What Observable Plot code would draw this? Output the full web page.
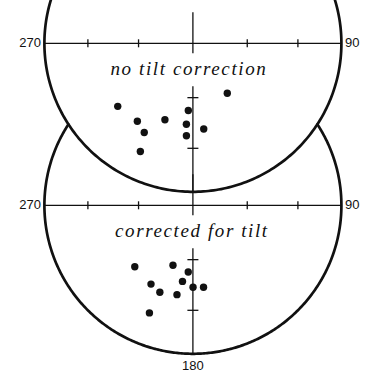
<!DOCTYPE html>
<html>
<head>
<meta charset="utf-8">
<script src="https://cdn.jsdelivr.net/npm/d3@7"></script>
<script src="https://cdn.jsdelivr.net/npm/@observablehq/plot@0.6"></script>
<style>
  html, body { margin: 0; padding: 0; background: #fff; }
  #chart svg { display: block; }
</style>
</head>
<body>
<div id="chart"></div>
<script>
// Site-mean palaeomagnetic directions, degrees
const netTitles = ["no tilt correction", "corrected for tilt"];
const uncorrectedDec = [230.0, 215.5, 208.6, 205.9, 200.1, 183.9, 184.6, 184.0, 172.8, 145.5];
const uncorrectedInc = [34.3, 35.8, 32.1, 20.1, 44.4, 52.6, 44.5, 37.6, 41.4, 56.4];
const correctedDec = [223.4, 198.4, 184.0, 187.8, 208.0, 200.8, 190.1, 179.9, 172.6, 202.0];
const correctedInc = [42.5, 55.0, 52.9, 47.1, 39.7, 37.4, 38.8, 44.1, 43.7, 22.9];
// Graticule ticks: angular distance from the vertical, degrees
const axisTicks = [30, 60];
// Azimuth labels round the primitive circle
const labelAzimuths = [270, 90, 180];
const labelTexts = ["270", "90", "180"];

// Layout
const W = 366, H = 374;
const px = 148.5;                    // pixels per primitive-circle radius
const cx = 192.4;                    // horizontal centre of both nets, px
const topCy = 42.8, botCy = 204.8;   // vertical centres, px
const gap = (botCy - topCy) / px;    // upper net centre in data units (lower net at 0)
const rad = Math.PI / 180;

// Lambert equal-area (Schmidt) projection, lower hemisphere, north up
function project(dec, inc) {
  const rho = Math.SQRT2 * Math.sin((90 - inc) * rad / 2);
  return [rho * Math.sin(dec * rad), rho * Math.cos(dec * rad)];
}

const nets = [
  {title: netTitles[0], dec: uncorrectedDec, inc: uncorrectedInc, y0: gap, labels: [270, 90]},
  {title: netTitles[1], dec: correctedDec, inc: correctedInc, y0: 0, labels: [270, 90, 180]}
];

const points = nets.flatMap(n => n.dec.map((d, i) => {
  const [x, y] = project(d, n.inc[i]);
  return {x, y: n.y0 + y};
}));

// Upper net: full primitive circle
const upperCircle = d3.range(0, 361, 1).map(a => ({x: Math.sin(a * rad), y: gap + Math.cos(a * rad)}));
// Lower net: only the part lying outside the upper net
const a0 = Math.acos(gap / 2) / rad;
const lowerArc = d3.range(a0, 360 - a0 + 1e-9, (360 - 2 * a0) / 400)
  .map(a => ({x: Math.sin(a * rad), y: Math.cos(a * rad)}));

const segments = [];
const tickPx = 4, crossPx = 5.5;
for (const n of nets) {
  const y0 = n.y0;
  segments.push({x1: -1, y1: y0, x2: 1, y2: y0});                       // E–W axis
  segments.push({x1: 0, y1: y0 + 31 / px, x2: 0, y2: y0 - 10 / px});   // centre cross
  segments.push({x1: 0, y1: y0 - 43 / px, x2: 0, y2: y0 - 1});          // southern axis
  for (const t of axisTicks) {
    const r = Math.SQRT2 * Math.sin(t * rad / 2);
    for (const s of [-1, 1]) segments.push({x1: s * r, y1: y0 - tickPx / px, x2: s * r, y2: y0 + tickPx / px});
    segments.push({x1: -crossPx / px, y1: y0 - r, x2: crossPx / px, y2: y0 - r});
  }
}

const labels = nets.flatMap(n => n.labels.map(az => {
  const i = labelAzimuths.indexOf(az);
  const pad = (az === 180 ? 12.5 : 3.5) / px;
  return {
    text: labelTexts[i],
    x: Math.sin(az * rad) * (1 + pad),
    y: n.y0 + Math.cos(az * rad) * (1 + pad),
    anchor: az === 270 ? "end" : az === 90 ? "start" : "middle"
  };
}));

const titles = nets.map((n, i) => ({text: n.title, x: (i === 0 ? -4 : -1) / px, y: n.y0 - 26 / px}));

const ink = "#111";
const chart = Plot.plot({
  width: W,
  height: H,
  margin: 0,
  x: {domain: [-cx / px, (W - cx) / px], axis: null},
  y: {domain: [-(H - botCy) / px, botCy / px], axis: null},
  marks: [
    Plot.line(lowerArc, {x: "x", y: "y", stroke: ink, strokeWidth: 2.7, curve: "linear"}),
    Plot.line(upperCircle, {x: "x", y: "y", stroke: ink, strokeWidth: 2.7, curve: "linear"}),
    Plot.link(segments, {x1: "x1", y1: "y1", x2: "x2", y2: "y2", stroke: ink, strokeWidth: 1.3}),
    Plot.dot(points, {x: "x", y: "y", r: 3.7, fill: ink, stroke: "none"}),
    ...["end", "start", "middle"].map(anchor =>
      Plot.text(labels.filter(d => d.anchor === anchor), {
        x: "x", y: "y", text: "text", textAnchor: anchor,
        fontFamily: "Liberation Sans", fontSize: 13, fill: ink
      })),
    Plot.text(titles, {
      x: "x", y: "y", text: "text",
      fontFamily: "Liberation Serif", fontStyle: "italic", fontSize: 19, fill: ink
    })
  ]
});
// Open up the italic net titles a little
d3.select(chart).selectAll("text")
  .filter(function () { return netTitles.includes(this.textContent); })
  .style("letter-spacing", "1.6px");
document.getElementById("chart").append(chart);
</script>
</body>
</html>
